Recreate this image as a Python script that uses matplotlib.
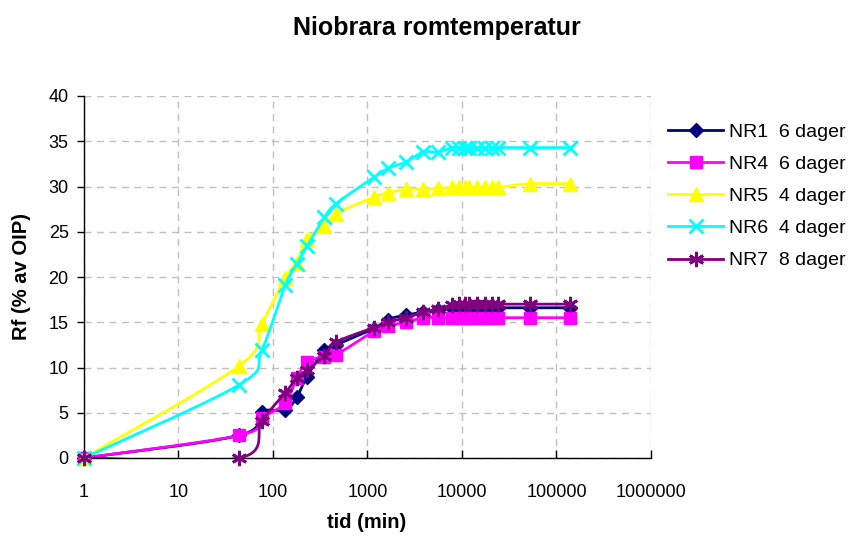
import numpy as np
import matplotlib
matplotlib.use("Agg")
import matplotlib.pyplot as plt
from matplotlib.lines import Line2D

plt.rcParams['font.family'] = ['Liberation Sans', 'DejaVu Sans']

# Sampling times (minutes)
tid = [1, 44, 76, 135, 178, 229, 350, 465, 1160, 1650, 2550, 3870, 5600,
       7800, 9300, 10700, 12000, 14300, 17600, 20800, 24000, 52000, 139000]

# Recovery factor, % of OIP
nr1 = [0, 2.5, 5.1, 5.3, 6.7, 9.0, 11.9, 12.5, 14.3, 15.3, 15.8, 16.1, 16.4,
       16.6, 16.6, 16.6, 16.6, 16.6, 16.6, 16.6, 16.6, 16.6, 16.6]
nr4 = [0, 2.5, 4.4, 6.1, 8.8, 10.6, 11.2, 11.4, 14.0, 14.6, 15.0, 15.5, 15.5,
       15.5, 15.5, 15.5, 15.5, 15.5, 15.5, 15.5, 15.5, 15.5, 15.5]
nr5 = [0, 10.2, 14.8, 19.9, 21.6, 24.2, 25.6, 27.0, 28.8, 29.3, 29.7, 29.7, 29.8,
       29.9, 29.9, 29.9, 29.9, 29.9, 29.9, 29.9, 29.9, 30.3, 30.3]
nr6 = [0, 8.1, 11.9, 19.1, 21.4, 23.4, 26.6, 28.1, 31.0, 32.0, 32.7, 33.8, 33.8,
       34.3, 34.3, 34.3, 34.3, 34.3, 34.3, 34.3, 34.3, 34.3, 34.3]
nr7 = [0, 0, 4.1, 7.2, 8.8, 9.7, 11.3, 12.8, 14.4, 15.0, 15.5, 16.1, 16.5,
       16.9, 17.0, 17.0, 17.0, 17.0, 17.0, 17.0, 17.0, 17.0, 17.0]

labels = ["NR1  6 dager", "NR4  6 dager", "NR5  4 dager", "NR6  4 dager", "NR7  8 dager"]
series = [nr1, nr4, nr5, nr6, nr7]
colors = ["#000080", "#FF00FF", "#FFFF00", "#00FFFF", "#800080"]
markers = ["D", "s", "^", "x", (6, 2, 0)]
msizes = [7, 9, 10, 10, 11]

xticks = [1, 10, 100, 1000, 10000, 100000, 1000000]
yticks = [0, 5, 10, 15, 20, 25, 30, 35, 40]


def smooth(x, y, n=24):
    """Catmull-Rom curve through the points, built in log10(x) space."""
    u = np.log10(np.asarray(x, float))
    v = np.asarray(y, float)
    P = np.column_stack([u, v])
    P = np.vstack([P[0], P, P[-1]])
    out = []
    t = np.linspace(0, 1, n, endpoint=False)[:, None]
    for i in range(1, len(P) - 2):
        p0, p1, p2, p3 = P[i - 1], P[i], P[i + 1], P[i + 2]
        c1 = p1 + (p2 - p0) / 6.0
        c2 = p2 - (p3 - p1) / 6.0
        seg = ((1 - t) ** 3) * p1 + 3 * ((1 - t) ** 2) * t * c1 \
            + 3 * (1 - t) * t ** 2 * c2 + t ** 3 * p2
        out.append(seg)
    out.append(P[-2][None, :])
    out = np.vstack(out)
    return 10 ** out[:, 0], out[:, 1]


fig = plt.figure(figsize=(8.54, 5.38), dpi=100)
ax = fig.add_axes([84 / 854, 80 / 538, 567 / 854, 362 / 538])

handles = []
for k, (vals, col, mk, ms, lab) in enumerate(zip(series, colors, markers, msizes, labels)):
    sx, sy = smooth(tid, vals)
    ax.plot(sx, sy, color=col, lw=2, zorder=3 + k, solid_capstyle='round')
    mew = 2 if mk in ("x", (6, 2, 0)) else 1
    ax.plot(tid, vals, ls='none', marker=mk, ms=ms, color=col, mec=col,
            mew=mew, zorder=3 + k, clip_on=False)
    handles.append(Line2D([0], [0], color=col, lw=2, marker=mk, ms=ms,
                          mec=col, mew=mew))

ax.set_xscale('log')
ax.set_xlim(1, 1000000)
ax.set_ylim(0, 40)
ax.set_xticks(xticks)
ax.set_xticklabels([str(v) for v in xticks])
ax.xaxis.set_minor_locator(matplotlib.ticker.NullLocator())
ax.set_yticks(yticks)
ax.set_yticklabels([str(v) for v in yticks])

ax.grid(True, color="#c0c0c0", linestyle=(0, (5, 4)), lw=1)
ax.set_axisbelow(True)
for s in ("top", "right"):
    ax.spines[s].set_visible(False)
for s in ("left", "bottom"):
    ax.spines[s].set_color("black")
    ax.spines[s].set_linewidth(1)

ax.tick_params(axis='x', direction='in', length=6, width=1, pad=19, labelsize=13)
ax.tick_params(axis='y', direction='out', length=5, width=1, pad=6, labelsize=13)

ax.set_xlabel("tid (min)", fontsize=14.5, fontweight='bold')
ax.set_ylabel("Rf (% av OIP)", fontsize=14.5, fontweight='bold')
ax.xaxis.set_label_coords((367 - 84) / 567, (458 - 513) / 362)
ax.yaxis.set_label_coords((31 - 84) / 567, 0.5)

fig.text(437 / 854, 1 - 28 / 538, "Niobrara romtemperatur", ha='center', va='center',
         fontsize=18, fontweight='bold')

fig.legend(handles, labels, loc='upper left', bbox_to_anchor=(668 / 854, 1 - 123 / 538),
           frameon=False, fontsize=14, handlelength=2.85, handletextpad=0.3,
           labelspacing=0.75, borderpad=0, borderaxespad=0)

fig.savefig("out.png", dpi=100)
